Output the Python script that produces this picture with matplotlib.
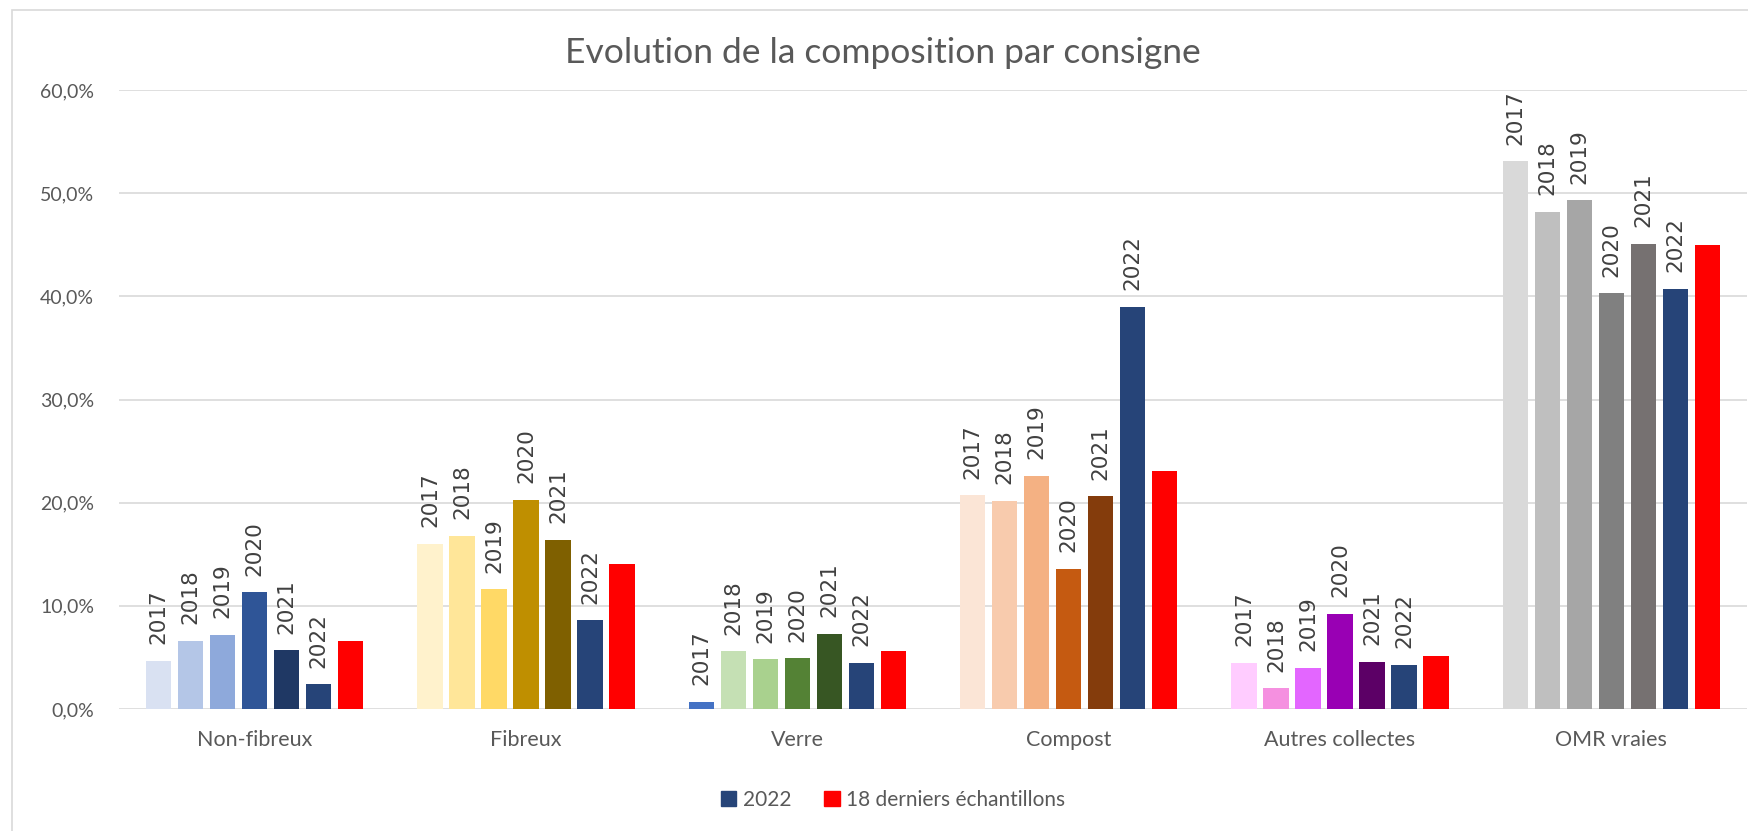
import matplotlib
matplotlib.use("Agg")
import matplotlib.pyplot as plt
import numpy as np
from matplotlib.patches import Patch, Rectangle
from matplotlib.ticker import FuncFormatter

plt.rcParams['font.family'] = ['Lato', 'DejaVu Sans']

# values (in %)
categories = ["Non-fibreux", "Fibreux", "Verre", "Compost", "Autres collectes", "OMR vraies"]
series_labels = ["2017", "2018", "2019", "2020", "2021", "2022", "18 derniers échantillons"]

v2017 = [4.7, 16.0, 0.7, 20.7, 4.5, 53.1]
v2018 = [6.6, 16.8, 5.6, 20.2, 2.0, 48.2]
v2019 = [7.2, 11.6, 4.8, 22.6, 4.0, 49.3]
v2020 = [11.3, 20.3, 4.9, 13.6, 9.2, 40.3]
v2021 = [5.7, 16.4, 7.3, 20.6, 4.6, 45.1]
v2022 = [2.4, 8.6, 4.5, 39.0, 4.3, 40.7]
v18 = [6.6, 14.1, 5.6, 23.1, 5.1, 45.0]

# one shade per year, per category
colors_nonfib = ["#D9E1F2", "#B4C6E7", "#8EA9DB", "#2F5597", "#1F3864"]
colors_fib = ["#FFF2CC", "#FFE699", "#FFD966", "#BF8F00", "#7F6000"]
colors_verre = ["#4472C4", "#C5E0B4", "#A9D18E", "#548235", "#375623"]
colors_compost = ["#FBE5D6", "#F8CBAD", "#F4B183", "#C55A11", "#843C0C"]
colors_autres = ["#FFCCFF", "#F590E0", "#E366FF", "#9900B4", "#5C0066"]
colors_omr = ["#D9D9D9", "#BFBFBF", "#A6A6A6", "#808080", "#767171"]
color_2022 = "#264478"
color_18 = "#FF0000"

group_colors = [colors_nonfib, colors_fib, colors_verre, colors_compost, colors_autres, colors_omr]
series = [v2017, v2018, v2019, v2020, v2021, v2022, v18]

text_grey = "#595959"
label_grey = "#404040"
grid_grey = "#D9D9D9"

W, H = 1749, 831
fig = plt.figure(figsize=(W / 100, H / 100), dpi=100)
ax = fig.add_axes([119 / W, 1 - 709 / H, (1747 - 119) / W, (709 - 90) / H])

x = np.arange(len(categories))
pitch = 0.118
width = 0.0935

for j, vals in enumerate(series):
    offset = (j - 3) * pitch
    for i, v in enumerate(vals):
        if j < 5:
            c = group_colors[i][j]
        elif j == 5:
            c = color_2022
        else:
            c = color_18
        ax.bar(x[i] + offset, v, width, color=c, zorder=3)
        if j < 6:
            ax.annotate(series_labels[j], (x[i] + offset, v), xytext=(0, 12),
                        textcoords="offset points", rotation=90, ha="center",
                        va="bottom", fontsize=15.5, color=label_grey, zorder=4,
                        family="DejaVu Sans")

ax.set_xlim(-0.5, len(categories) - 0.5)
ax.set_ylim(0, 60)
ax.set_yticks(np.arange(0, 61, 10))
ax.yaxis.set_major_formatter(FuncFormatter(lambda v, p: f"{v:.1f}%".replace(".", ",")))
ax.set_xticks(x)
ax.set_xticklabels(categories)
ax.tick_params(axis="both", length=0, colors=text_grey)
ax.tick_params(axis="x", pad=15, labelsize=15.5)
ax.tick_params(axis="y", pad=18, labelsize=14)
ax.grid(axis="y", color=grid_grey, linewidth=1.2, zorder=0)
for s in ax.spines.values():
    s.set_visible(False)

fig.text(883 / W, 1 - 53 / H, "Evolution de la composition par consigne",
         ha="center", va="center", fontsize=25.5, color=text_grey)

handles = [Patch(color=color_2022), Patch(color=color_18)]
fig.legend(handles, ["2022", "18 derniers échantillons"], loc="center",
           bbox_to_anchor=(893 / W, 1 - 800 / H), ncol=2, frameon=False,
           fontsize=15, labelcolor=text_grey, handlelength=0.75, handleheight=0.75,
           handletextpad=0.3, columnspacing=1.6)

# chart frame
fig.patches.append(Rectangle((12 / W, -0.01), 1.0, 1 - 10 / H + 0.01, transform=fig.transFigure,
                             fill=False, edgecolor=grid_grey, linewidth=1.2))

fig.savefig("out.png", dpi=100)
